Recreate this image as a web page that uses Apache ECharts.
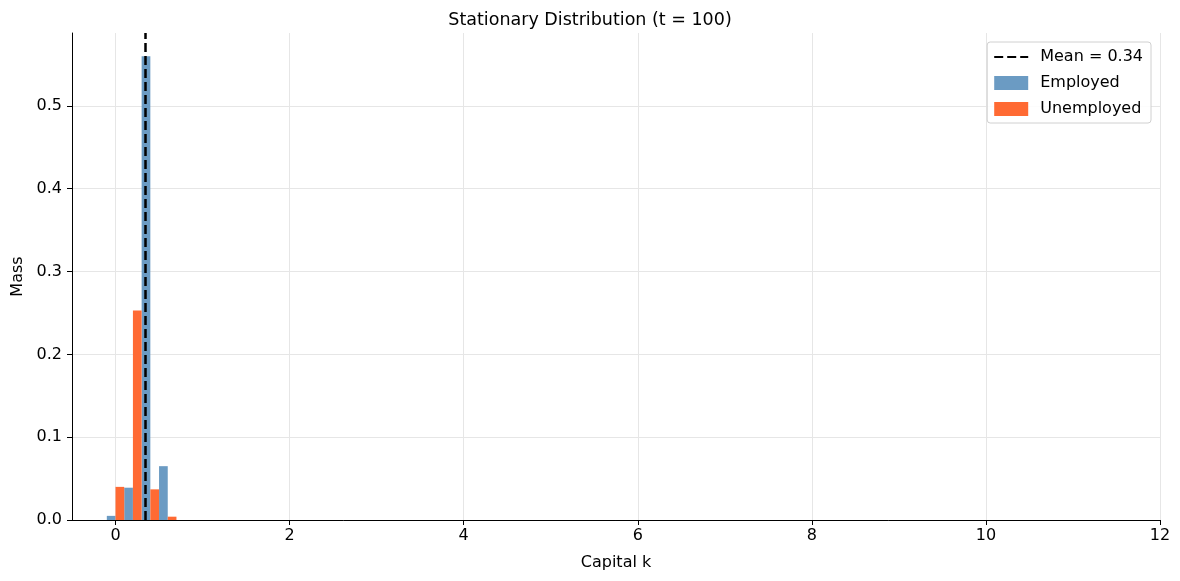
<!DOCTYPE html>
<html>
<head>
<meta charset="utf-8">
<script src="https://cdn.jsdelivr.net/npm/echarts@6/dist/echarts.min.js"></script>
<style>
  html, body { margin: 0; padding: 0; background: #fff; }
  #main { width: 1180px; height: 581px; }
</style>
</head>
<body>
<div id="main"></div>
<script>
// capital grid points and mass per state
const capitalGrid = [0, 0.2, 0.4, 0.6];
const employedMass = [0.005, 0.039, 0.56, 0.065];
const unemployedMass = [0.040, 0.253, 0.037, 0.004];
const meanK = 0.34;
const xTicks = [0, 2, 4, 6, 8, 10, 12];
const yTicks = [0, 0.1, 0.2, 0.3, 0.4, 0.5];

const chart = echarts.init(document.getElementById('main'));
const font = 'DejaVu Sans';
const barW = 0.1;

// histogram bars drawn through the axis scales
function barSeries(name, values, offset, color) {
  return {
    name: name,
    type: 'custom',
    data: capitalGrid.map((k, i) => [k, values[i]]),
    encode: { x: 0, y: 1 },
    itemStyle: { color: color },
    renderItem: function (params, api) {
      const k = api.value(0);
      const p0 = api.coord([k + offset, 0]);
      const p1 = api.coord([k + offset + barW, api.value(1)]);
      return {
        type: 'rect',
        shape: { x: p0[0], y: p1[1], width: p1[0] - p0[0], height: p0[1] - p1[1] },
        style: { fill: color }
      };
    }
  };
}

const option = {
  animation: false,
  backgroundColor: '#fff',
  textStyle: { fontFamily: font },
  title: {
    text: 'Stationary Distribution (t = 100)',
    left: 'center', top: 6,
    textStyle: { fontFamily: font, fontSize: 17.5, fontWeight: 'normal', color: '#000' }
  },
  grid: { left: 72, right: 20, top: 33, bottom: 61, outerBoundsMode: 'none' },
  legend: {
    right: 29, top: 42,
    orient: 'vertical',
    itemGap: 10,
    itemWidth: 34, itemHeight: 14,
    padding: [7, 8, 6, 6],
    borderColor: '#d0d0d0', borderWidth: 1, borderRadius: 3,
    backgroundColor: 'rgba(255,255,255,0.85)',
    textStyle: { fontFamily: font, fontSize: 16, color: '#000', padding: [0, 0, 0, 7] },
    data: [
      { name: 'Mean = ' + meanK.toFixed(2), itemStyle: { opacity: 0 } },
      { name: 'Employed', icon: 'rect' },
      { name: 'Unemployed', icon: 'rect' }
    ]
  },
  xAxis: {
    type: 'value',
    min: -0.5, max: 12,
    name: 'Capital k',
    nameLocation: 'middle', nameGap: 35,
    nameTextStyle: { fontFamily: font, fontSize: 16, color: '#000' },
    axisLine: { onZero: false, lineStyle: { color: '#000', width: 1 } },
    axisTick: { show: true, length: 5, inside: false, customValues: xTicks, lineStyle: { color: '#000' } },
    axisLabel: { customValues: xTicks, fontFamily: font, fontSize: 16, color: '#000', margin: 8 },
    splitLine: { show: true, lineStyle: { color: '#e6e6e6', width: 1 } }
  },
  yAxis: {
    type: 'value',
    min: 0, max: 0.588,
    name: 'Mass',
    nameLocation: 'middle', nameGap: 45,
    nameTextStyle: { fontFamily: font, fontSize: 16, color: '#000' },
    axisLine: { show: true, onZero: false, lineStyle: { color: '#000', width: 1 } },
    axisTick: { show: true, length: 5, inside: false, customValues: yTicks, lineStyle: { color: '#000' } },
    axisLabel: {
      customValues: yTicks,
      fontFamily: font, fontSize: 16, color: '#000', margin: 10,
      formatter: v => v.toFixed(1)
    },
    splitLine: { show: true, lineStyle: { color: '#e6e6e6', width: 1 } }
  },
  series: [
    barSeries('Employed', employedMass, -barW, '#6b9bc3'),
    barSeries('Unemployed', unemployedMass, 0, '#ff6a33'),
    {
      name: 'Mean = ' + meanK.toFixed(2),
      type: 'line',
      data: [],
      symbol: 'none',
      itemStyle: { color: '#000' },
      lineStyle: { color: '#000', width: 2.5, type: [9, 4] },
      z: 5,
      markLine: {
        silent: true,
        symbol: ['none', 'none'],
        label: { show: false },
        lineStyle: { color: '#000', width: 2.5, type: [9, 4] },
        data: [{ xAxis: meanK }]
      }
    }
  ]
};

chart.setOption(option);
</script>
</body>
</html>
